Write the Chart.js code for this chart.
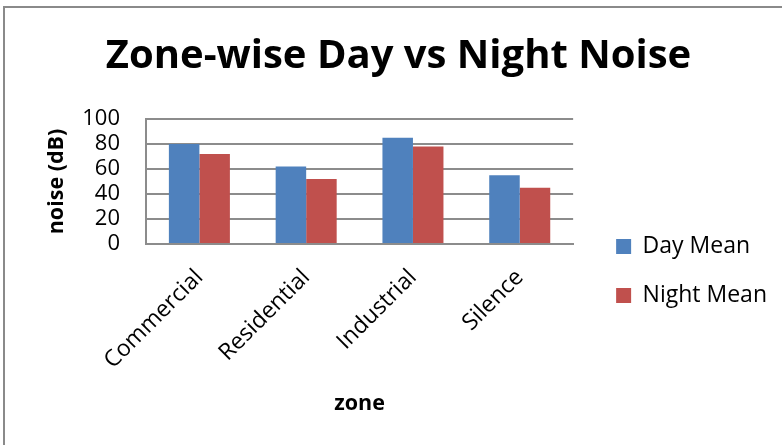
<!DOCTYPE html>
<html>
<head>
<meta charset="utf-8">
<script src="https://cdn.jsdelivr.net/npm/chart.js@4.4.1/dist/chart.umd.min.js"></script>
<style>
  html, body { margin: 0; padding: 0; background: #fff; }
  #wrap { width: 782px; height: 445px; }
</style>
</head>
<body>
<div id="wrap"><canvas id="chart" width="782" height="445"></canvas></div>
<script>
// データ
const zones = ['Commercial', 'Residential', 'Industrial', 'Silence'];
const dayMean = [80, 62, 85, 55];
const nightMean = [72, 52, 78, 45];
const yTicks = [0, 20, 40, 60, 80, 100];

const gridColor = '#8c8c8c';

// グラフ外枠（左と上の線）
const framePlugin = {
    id: 'frame',
    beforeDraw(chart) {
        const ctx = chart.ctx;
        ctx.save();
        ctx.strokeStyle = '#8a8a8a';
        ctx.lineWidth = 2;
        ctx.beginPath();
        ctx.moveTo(4, chart.height);
        ctx.lineTo(4, 7);
        ctx.lineTo(chart.width, 7);
        ctx.stroke();
        ctx.restore();
    }
};

Chart.defaults.font.family = "'Open Sans', sans-serif";
Chart.defaults.color = '#000';

new Chart(document.getElementById('chart'), {
    type: 'bar',
    data: {
        labels: zones,
        datasets: [
            {
                label: 'Day Mean',
                data: dayMean,
                backgroundColor: '#4F81BD',
                yAxisID: 'y',
                categoryPercentage: 2 / 3.5,
                barPercentage: 1,
            },
            {
                label: 'Night Mean',
                data: nightMean,
                backgroundColor: '#C0504D',
                yAxisID: 'y',
                categoryPercentage: 2 / 3.5,
                barPercentage: 1,
            },
        ],
    },
    options: {
        responsive: false,
        animation: false,
        devicePixelRatio: 1,
        layout: {
            padding: { left: 20, right: 5, top: 0, bottom: 0 },
        },
        plugins: {
            title: {
                display: true,
                text: 'Zone-wise Day vs Night Noise',
                color: '#000',
                font: { size: 40, weight: 'bold' },
                padding: { top: 32.3, bottom: 38.7 },
            },
            legend: {
                position: 'right',
                align: 'center',
                maxWidth: 220,
                title: {
                    display: true,
                    text: '',
                    font: { size: 12 },
                    padding: { top: 82.6, bottom: 0 },
                },
                labels: {
                    boxWidth: 15,
                    boxHeight: 15,
                    padding: 26,
                    color: '#000',
                    font: { size: 23 },
                },
            },
            tooltip: { enabled: false },
        },
        scales: {
            x: {
                grid: { display: false, drawTicks: false },
                border: { display: true, color: gridColor, width: 2 },
                ticks: {
                    font: { size: 23 },
                    color: '#000',
                    minRotation: 45,
                    maxRotation: 45,
                    autoSkip: false,
                    padding: 20,
                },
                title: {
                    display: true,
                    text: 'zone',
                    color: '#000',
                    font: { size: 21.5, weight: 'bold' },
                    padding: { top: 0, bottom: 28 },
                },
                afterFit: s => { s.height = 201; },
            },
            y: {
                min: 0,
                max: 100,
                afterBuildTicks: s => { s.ticks = yTicks.map(v => ({ value: v })); },
                grid: { color: gridColor, lineWidth: 2, drawTicks: false },
                border: { display: true, color: gridColor, width: 2 },
                ticks: { font: { size: 22 }, color: '#000', padding: 26, autoSkip: false },
                title: {
                    display: true,
                    text: 'noise (dB)',
                    color: '#000',
                    font: { size: 21.5, weight: 'bold' },
                    padding: { top: 24.1, bottom: 0 },
                },
                afterFit: s => { s.width = 126; },
            },
            // 凡例との間隔用の空の軸
            yR: {
                position: 'right',
                grid: { display: false, drawTicks: false },
                border: { display: false },
                ticks: { display: false },
                afterFit: s => { s.width = 17; },
            },
        },
    },
    plugins: [framePlugin],
});
</script>
</body>
</html>
